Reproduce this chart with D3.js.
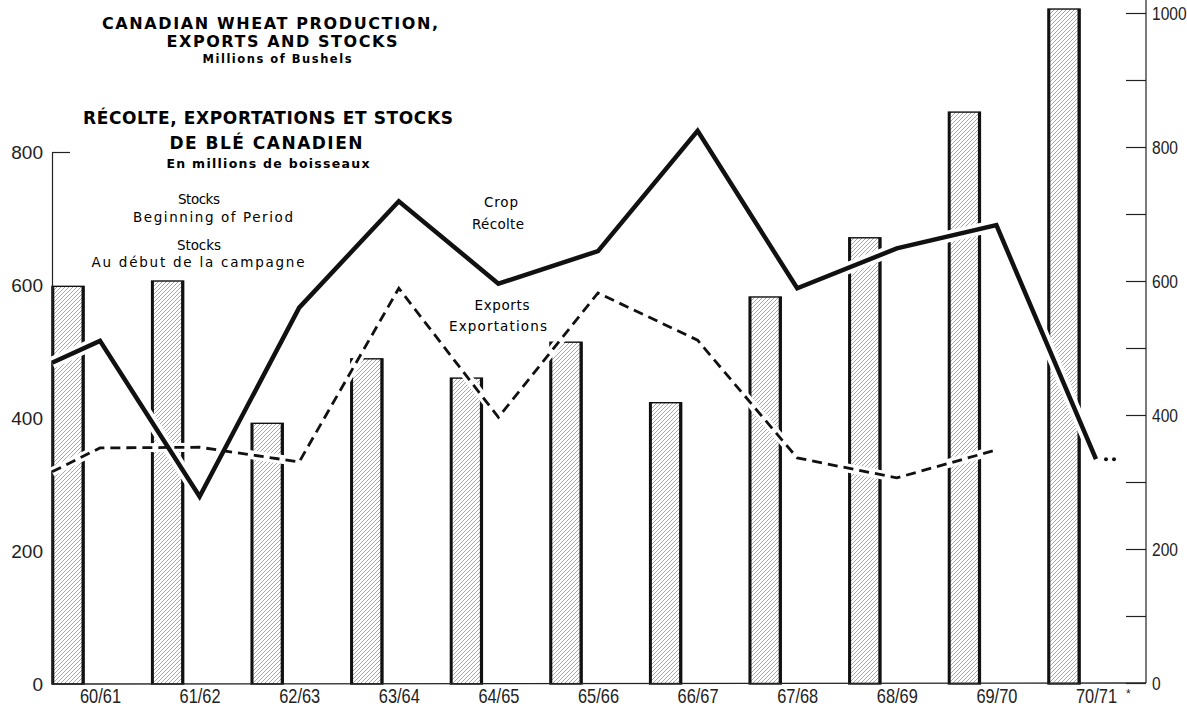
<!DOCTYPE html>
<html><head><meta charset="utf-8">
<script src="https://cdn.jsdelivr.net/npm/d3@7"></script>
<style>body{margin:0;background:#fff}svg{display:block}</style>
</head><body>
<svg id="chart" width="1187" height="710"></svg>
<script>
// ---- data (millions of bushels) ----
const categories = ["60/61","61/62","62/63","63/64","64/65","65/66","66/67","67/68","68/69","69/70","70/71"];
const stocks  = [598, 606, 392, 489, 460, 514, 423, 582, 671, 860, 1015];
const crop    = [516, 282, 566, 726, 602, 651, 832, 595, 655, 690, 338];
const exportsV= [355, 356, 334, 595, 401, 588, 517, 340, 310, 352, null];
const cropLeadIn = 483;     // value where the crop line enters at the left axis
const exportsLeadIn = 319;  // value where the exports line enters at the left axis
const leftTicks  = [0, 200, 400, 600, 800];
const rightTicks = [0, 100, 200, 300, 400, 500, 600, 700, 800, 900, 1000];
const rightLabels = [0, 200, 400, 600, 800, 1000];

const svg = d3.select("#chart");

const x  = d3.scalePoint().domain(categories).range([100, 1096]);
const yL = d3.scaleLinear().domain([0, 800]).range([684, 152]);
const yR = d3.scaleLinear().domain([0, 1000]).range([683, 13]);
const barOffset = 48, barW = 32;
const axisX = x(categories[0]) - barOffset;
const rightAxisX = 1146;
const narrow = 0.82;

// hatch pattern
const defs = svg.append("defs");
const pat = defs.append("pattern").attr("id","hatch").attr("patternUnits","userSpaceOnUse")
  .attr("width",4).attr("height",4);
pat.append("path").attr("d","M-1,1 l2,-2 M0,4 l4,-4 M3,5 l2,-2")
  .attr("stroke","#8a8a8a").attr("stroke-width",0.75);

// ---- bars ----
const bars = svg.append("g");
categories.forEach((c,i) => {
  const bx = x(c) - barOffset, by = yL(stocks[i]), bh = yL(0) - yL(stocks[i]);
  bars.append("rect").attr("x",bx).attr("y",by).attr("width",barW).attr("height",bh)
    .attr("fill","url(#hatch)").attr("stroke","#111").attr("stroke-width",1.4);
  bars.append("line").attr("x1",bx+1).attr("x2",bx+1).attr("y1",by).attr("y2",yL(0))
    .attr("stroke","#111").attr("stroke-width",2.6);
  bars.append("line").attr("x1",bx+barW-1).attr("x2",bx+barW-1).attr("y1",by).attr("y2",yL(0))
    .attr("stroke","#111").attr("stroke-width",3);
});

// ---- axes ----
svg.append("line").attr("x1",axisX).attr("x2",rightAxisX).attr("y1",yL(0)).attr("y2",yR(0))
  .attr("stroke","#222").attr("stroke-width",1.3);

const gL = svg.append("g").attr("transform",`translate(${axisX},0)`)
  .call(d3.axisLeft(yL).tickValues(leftTicks).tickSizeInner(-18).tickSizeOuter(0).tickPadding(9));
gL.select(".domain").attr("stroke","#222").attr("stroke-width",1.2);
gL.selectAll(".tick line").attr("stroke","#222").attr("stroke-width",1.2)
  .style("display", d => d === 800 ? null : "none");
gL.selectAll(".tick text").attr("font-family","'Liberation Sans', Arial, sans-serif")
  .attr("font-size",19).attr("fill","#222");

const gR = svg.append("g").attr("transform",`translate(${rightAxisX},0)`)
  .call(d3.axisRight(yR).tickValues(rightTicks).tickSizeInner(-20).tickSizeOuter(0).tickPadding(6)
    .tickFormat(d => rightLabels.includes(d) ? d : ""));
gR.select(".domain").remove();
gR.append("line").attr("x1",0).attr("x2",0).attr("y1",yR(0)).attr("y2",0)
  .attr("stroke","#222").attr("stroke-width",1.2);
gR.selectAll(".tick line").attr("stroke","#222").attr("stroke-width",1.2);
gR.selectAll(".tick text").attr("font-family","'Liberation Sans', Arial, sans-serif")
  .attr("font-size",19).attr("fill","#222")
  .attr("x", 6/narrow).attr("transform", `scale(${narrow},1)`);

const gB = svg.append("g").attr("transform",`translate(0,${yL(0)})`)
  .call(d3.axisBottom(x).tickSize(0).tickPadding(5));
gB.select(".domain").remove();
gB.selectAll(".tick text").attr("font-family","'Liberation Sans', Arial, sans-serif")
  .attr("font-size",20).attr("fill","#222").attr("transform", `scale(${narrow},1)`);
const lastC = categories[categories.length-1];
svg.append("text").attr("x", x(lastC)+30).attr("y", yL(0)+14).text("*")
  .attr("font-family","'Liberation Sans', sans-serif").attr("font-size",12).attr("fill","#222");

// ---- lines ----
const cropPts = [{x: axisX, v: cropLeadIn}].concat(categories.map((c,i)=>({x:x(c), v:crop[i]})));
const expPts  = [{x: axisX, v: exportsLeadIn}].concat(categories.map((c,i)=>({x:x(c), v:exportsV[i]})))
  .filter(d => d.v != null);
const line = d3.line().x(d=>d.x).y(d=>yL(d.v));

svg.append("path").attr("d",line(cropPts)).attr("fill","none").attr("stroke","#fff").attr("stroke-width",12);
svg.append("path").attr("d",line(expPts)).attr("fill","none").attr("stroke","#fff").attr("stroke-width",9);
svg.append("path").attr("d",line(cropPts)).attr("fill","none").attr("stroke","#111")
  .attr("stroke-width",4.5).attr("stroke-linejoin","miter");
svg.append("path").attr("d",line(expPts)).attr("fill","none").attr("stroke","#111")
  .attr("stroke-width",2.8).attr("stroke-dasharray","10,6");

[10, 18].forEach(dx => {
  svg.append("circle").attr("cx", x(lastC)+dx).attr("cy", yL(crop[crop.length-1])).attr("r",2).attr("fill","#111");
});

// ---- texts ----
const texts = [
  {t:"CANADIAN WHEAT PRODUCTION,", x:270, y:29, s:16, w:"bold", len:336},
  {t:"EXPORTS AND STOCKS", x:282, y:47, s:16, w:"bold", len:231},
  {t:"Millions of Bushels", x:277, y:63, s:11.5, w:"bold", len:149},
  {t:"RÉCOLTE, EXPORTATIONS ET STOCKS", x:268, y:124, s:17, w:"bold", len:370},
  {t:"DE BLÉ CANADIEN", x:266, y:149, s:17, w:"bold", len:193},
  {t:"En millions de boisseaux", x:268, y:168, s:12.5, w:"bold", len:203},
  {t:"Stocks", x:199, y:204, s:13.5, w:"normal", len:42},
  {t:"Beginning of Period", x:213, y:222, s:13.5, w:"normal", len:160},
  {t:"Stocks", x:199, y:250, s:13.5, w:"normal", len:44},
  {t:"Au début de la campagne", x:198, y:267, s:13.5, w:"normal", len:213},
  {t:"Crop", x:501, y:207, s:13.5, w:"normal", len:34},
  {t:"Récolte", x:498, y:229, s:13.5, w:"normal", len:52},
  {t:"Exports", x:502, y:310, s:13.5, w:"normal", len:55},
  {t:"Exportations", x:498, y:331, s:13.5, w:"normal", len:98}
];
svg.append("g").selectAll("text").data(texts).join("text")
  .attr("x", d=>d.x).attr("y", d=>d.y).attr("text-anchor","middle")
  .attr("font-family","'DejaVu Sans', sans-serif").attr("font-size", d=>d.s)
  .attr("font-weight", d=>d.w).attr("fill","#000")
  .attr("textLength", d=>d.len).attr("lengthAdjust","spacing")
  .text(d=>d.t);
</script>
</body></html>
